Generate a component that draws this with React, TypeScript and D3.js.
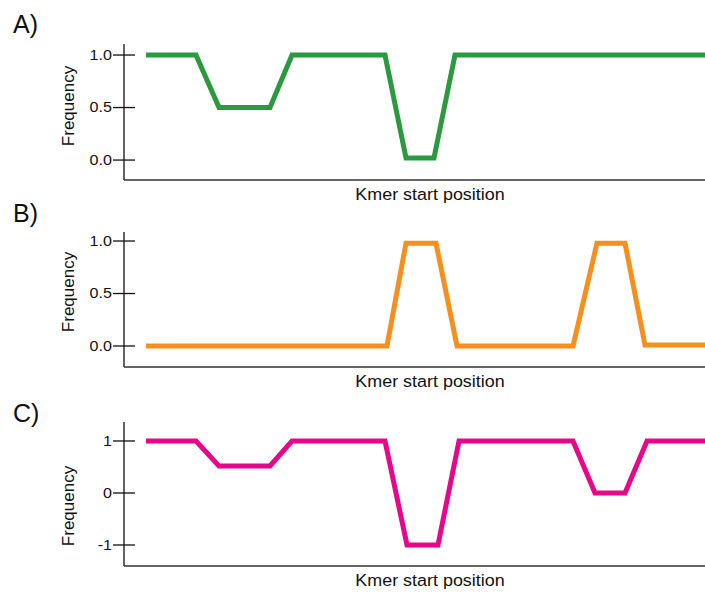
import React from "react";
import * as d3 from "d3";

// Kmer start positions (shared x units) and frequencies
const posA = [22, 72, 95, 146, 168, 261, 282, 310, 331, 581];
const valA = [1, 1, 0.5, 0.5, 1, 1, 0.02, 0.02, 1, 1];
const posB = [22, 263, 282, 312, 333, 449, 473, 501, 521, 581];
const valB = [0, 0, 0.98, 0.98, 0, 0, 0.98, 0.98, 0.01, 0.01];
const posC = [22, 72, 95, 146, 168, 261, 283, 314, 335, 449, 471, 501, 523, 581];
const valC = [1, 1, 0.52, 0.52, 1, 1, -1, -1, 1, 1, 0, 0, 1, 1];

const ticksAB = [0, 0.5, 1];
const tickLabelsAB = ["0.0", "0.5", "1.0"];
const ticksC = [-1, 0, 1];
const tickLabelsC = ["-1", "0", "1"];

const panelLabels = ["A)", "B)", "C)"];
const xTitle = "Kmer start position";
const yTitle = "Frequency";

const xDomain = [0, 581];

const panels = [
  { label: panelLabels[0], pos: posA, val: valA, ticks: ticksAB, tickLabels: tickLabelsAB,
    color: "#2b9a3e", domain: [-0.19, 1.105], top: 44, bottom: 180, labelY: 33, yTitleC: 106 },
  { label: panelLabels[1], pos: posB, val: valB, ticks: ticksAB, tickLabels: tickLabelsAB,
    color: "#f78f1e", domain: [-0.2, 1.086], top: 232, bottom: 367, labelY: 222, yTitleC: 292 },
  { label: panelLabels[2], pos: posC, val: valC, ticks: ticksC, tickLabels: tickLabelsC,
    color: "#e8068a", domain: [-1.404, 1.365], top: 422, bottom: 566, labelY: 422, yTitleC: 506 },
];

const W = 705;
const H = 592;
const axisX = 124;
const font = "'Liberation Sans', Arial, sans-serif";

export default function App() {
  const x = d3.scaleLinear().domain(xDomain).range([axisX, W]);
  return (
    <svg width={W} height={H} style={{ position: "absolute", left: 0, top: 0, background: "#fff" }}
      fontFamily={font}>
      <rect width={W} height={H} fill="#fff" />
      {panels.map((p, i) => {
        const y = d3.scaleLinear().domain(p.domain).range([p.bottom, p.top]);
        const data = p.pos.map((d, k) => [d, p.val[k]] as [number, number]);
        const line = d3.line<[number, number]>().x((d) => x(d[0])).y((d) => y(d[1]));
        return (
          <g key={i}>
            <text x={13} y={p.labelY} fontSize={25} fill="#111">{p.label}</text>
            <line x1={axisX} x2={axisX} y1={p.top} y2={p.bottom} stroke="#111" strokeWidth={1.3} />
            <line x1={axisX} x2={W} y1={p.bottom} y2={p.bottom} stroke="#333" strokeWidth={1.6} />
            {p.ticks.map((t, k) => (
              <g key={k}>
                <line x1={axisX - 11} x2={axisX + 11} y1={y(t)} y2={y(t)} stroke="#111" strokeWidth={1.3} />
                <text x={112} y={y(t)} dy="0.35em" textAnchor="end" fontSize={14}
                  transform={`translate(112,0) scale(1.15,1) translate(-112,0)`} fill="#111">
                  {p.tickLabels[k]}
                </text>
              </g>
            ))}
            <text transform={`translate(74,${p.yTitleC}) rotate(-90)`} textAnchor="middle" fontSize={17} fill="#111">
              {yTitle}
            </text>
            <text x={430} y={p.bottom + 20} textAnchor="middle" fontSize={16.3}
              transform={`translate(430,0) scale(1.1,1) translate(-430,0)`} fill="#111">
              {xTitle}
            </text>
            <path d={line(data) || ""} fill="none" stroke={p.color} strokeWidth={5} strokeLinejoin="miter" />
          </g>
        );
      })}
    </svg>
  );
}
